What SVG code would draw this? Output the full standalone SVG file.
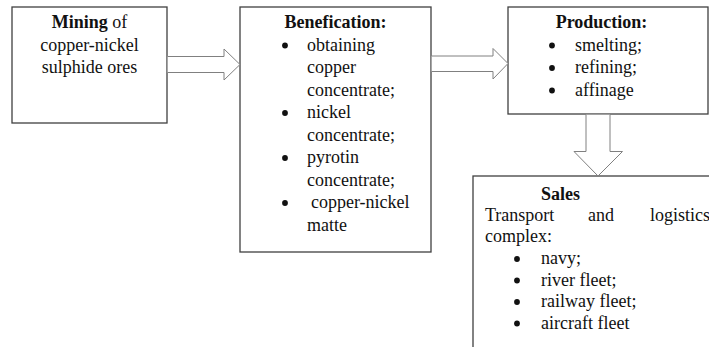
<svg xmlns="http://www.w3.org/2000/svg" width="709" height="347" viewBox="0 0 709 347">
<style>
.box{fill:#fff;stroke:#404040;stroke-width:1.3}
.arr{fill:#fff;stroke:#808080;stroke-width:1}
.dot{fill:#111}
text{font-family:"Liberation Serif","Times New Roman",serif;font-size:18px;fill:#111}
.b{font-weight:bold}
.m{text-anchor:middle}
</style>
<rect width="709" height="347" fill="#fff"/>
<g id="mining">
<rect class="box" x="12" y="7" width="155" height="116"/>
<text class="m" x="89.5" y="28"><tspan class="b">Mining</tspan> of</text>
<text class="m" x="89.5" y="50.5">copper-nickel</text>
<text class="m" x="89.5" y="73">sulphide ores</text>
</g>
<g id="benefication">
<rect class="box" x="240" y="7" width="191" height="245"/>
<text class="b m" x="335.5" y="28">Benefication:</text>
<circle class="dot" cx="285" cy="45.5" r="2.9"/>
<text x="307" y="50.5">obtaining</text>
<text x="307" y="73">copper</text>
<text x="307" y="95.5">concentrate;</text>
<circle class="dot" cx="285" cy="113" r="2.9"/>
<text x="307" y="118">nickel</text>
<text x="307" y="140.5">concentrate;</text>
<circle class="dot" cx="285" cy="158" r="2.9"/>
<text x="307" y="163">pyrotin</text>
<text x="307" y="185.5">concentrate;</text>
<circle class="dot" cx="285" cy="203" r="2.9"/>
<text x="311" y="208">copper-nickel</text>
<text x="307" y="230.5">matte</text>
</g>
<g id="production">
<rect class="box" x="508" y="7" width="200" height="107"/>
<text class="b m" x="601.5" y="28">Production:</text>
<circle class="dot" cx="552" cy="45.5" r="2.9"/>
<text x="575" y="50.5">smelting;</text>
<circle class="dot" cx="552" cy="68" r="2.9"/>
<text x="575" y="73">refining;</text>
<circle class="dot" cx="552" cy="90.5" r="2.9"/>
<text x="575" y="95.5">affinage</text>
</g>
<g id="sales">
<rect class="box" x="473" y="176" width="250" height="190"/>
<text class="b" x="541" y="200">Sales</text>
<text x="485" y="221">Transport</text>
<text x="588" y="221">and</text>
<text x="650" y="221">logistics</text>
<text x="485" y="242">complex:</text>
<circle class="dot" cx="517" cy="259" r="2.9"/>
<text x="541" y="264">navy;</text>
<circle class="dot" cx="517" cy="280.5" r="2.9"/>
<text x="541" y="285.5">river fleet;</text>
<circle class="dot" cx="517" cy="302" r="2.9"/>
<text x="541" y="307">railway fleet;</text>
<circle class="dot" cx="517" cy="323.5" r="2.9"/>
<text x="541" y="328.5">aircraft fleet</text>
</g>
<g id="connectors">
<path class="arr" d="M167.7,56.5 H224 V49 L240,64.5 L224,80 V72.5 H167.7"/>
<path class="arr" d="M431.7,56 H493 V48.5 L508,63.5 L493,79 V71.5 H431.7"/>
<path class="arr" d="M586,114.7 V151.5 H574 L598,176 L622.5,151.5 H610 V114.7"/>
</g>
</svg>
